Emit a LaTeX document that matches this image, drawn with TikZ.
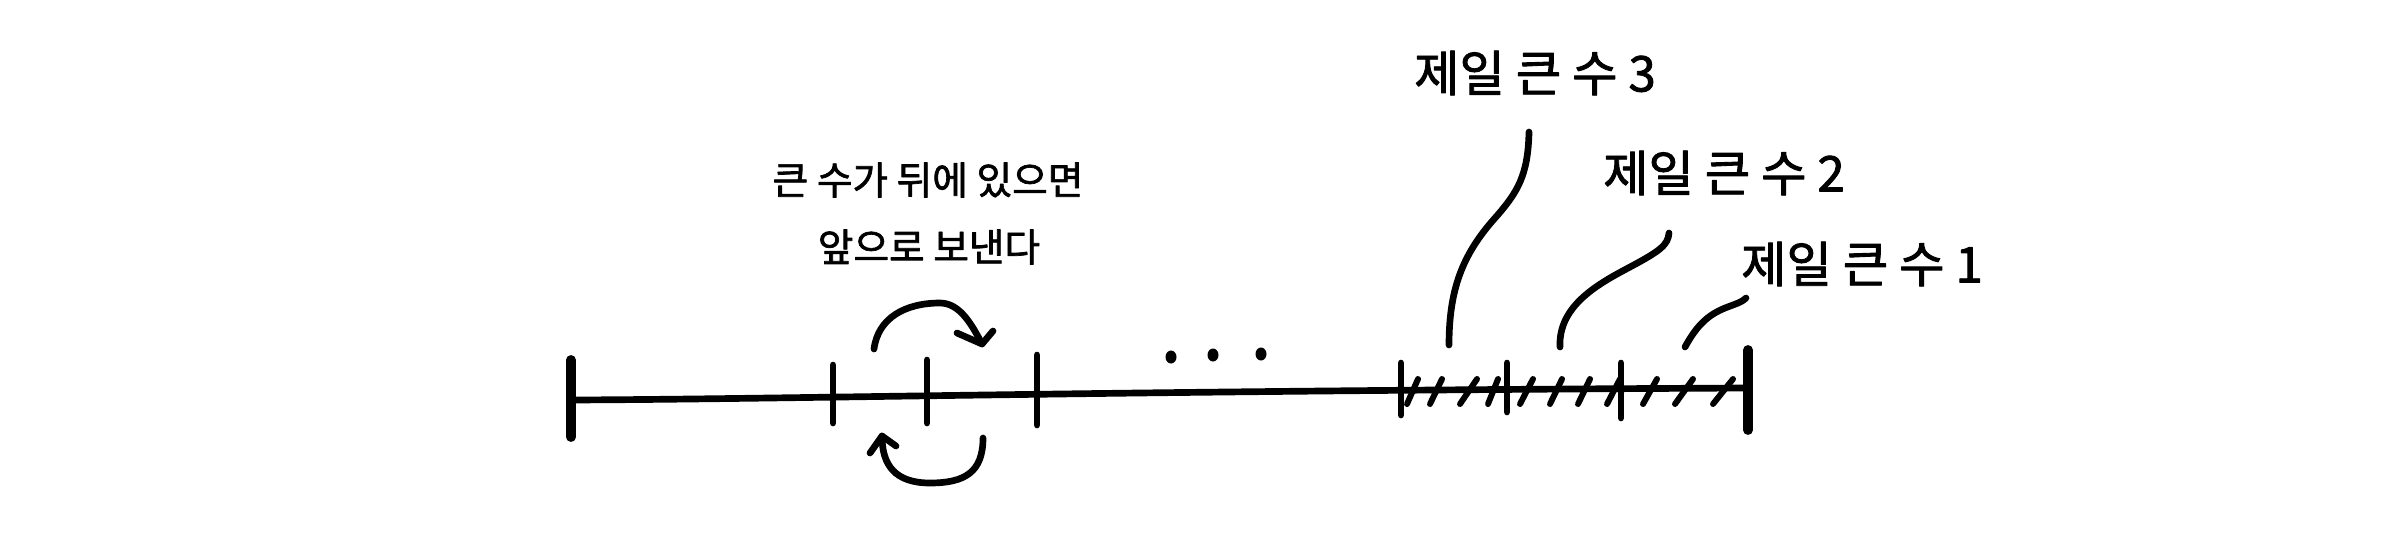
\documentclass[tikz,border=0pt]{standalone}
\usepackage{fontspec}
\newfontfamily\kr[RawFeature={embolden=1.8}]{Noto Sans CJK KR}
\begin{document}
\begin{tikzpicture}[x=0.01cm,y=-0.01cm, line cap=round, line join=round,
  stroke/.style={line width=1.9pt},
  bar/.style={line width=2.8pt},
  slash/.style={line width=1.7pt},
  lbl/.style={font=\kr\fontsize{14}{16}\selectfont, inner sep=0pt},
  note/.style={font=\kr\fontsize{11}{13}\selectfont, inner sep=0pt}]
\useasboundingbox (0,0) rectangle (2400,542);
% main line
\coordinate (L) at (571,400);
\coordinate (R) at (1748,388);
\draw[stroke] (L) .. controls (800,399) and (1100,391) .. (R);
% end bars
\coordinate (Lt) at (571,360); \coordinate (Lb) at (571,437);
\coordinate (Rt) at (1748,350); \coordinate (Rb) at (1748,430);
\draw[bar] (Lt) -- (Lb);
\draw[bar] (Rt) -- (Rb);
% ticks
\foreach \x/\t/\b in {833/365/423, 927/360/423, 1037/355/425, 1401/363/415, 1507/363/412, 1621/363/418}
  \draw[stroke] (\x,\t) -- (\x,\b);
% slashes
\foreach \a/\b in {1407/1418, 1430/1442, 1460/1477, 1488/1498, 1520/1533, 1550/1562, 1578/1590, 1607/1620, 1643/1657, 1675/1693, 1713/1733}
  \draw[slash] (\a,404) -- (\b,379);
% dots
\foreach \x/\y in {1171/357, 1213/355, 1261/354}
  \fill (\x,\y) ellipse [x radius=0.055cm, y radius=0.065cm];
% top arrow
\coordinate (ta) at (874,349);
\coordinate (tt) at (982,344);
\coordinate (th1) at (957,333);
\coordinate (th2) at (993,331);
\draw[stroke] (ta) .. controls (878,318) and (905,303) .. (940,303) .. controls (960,303) and (972,325) .. (tt);
\draw[stroke] (th1) -- (tt) -- (th2);
% bottom arrow
\coordinate (ba) at (983,438);
\coordinate (bt) at (882,436);
\coordinate (bh1) at (870,453);
\coordinate (bh2) at (896,446);
\draw[stroke] (ba) .. controls (983,472) and (965,483) .. (930,483) .. controls (895,483) and (882,465) .. (bt);
\draw[stroke] (bh1) -- (bt) -- (bh2);
% labels
\node[note] (n1) at (928,180) {큰 수가 뒤에 있으면};
\node[note] (n2) at (929,247) {앞으로 보낸다};
\node[lbl] (m3) at (1535,73) {제일 큰 수 3};
\node[lbl] (m2) at (1724,173) {제일 큰 수 2};
\node[lbl] (m1) at (1862,264) {제일 큰 수 1};
% leader lines
\coordinate (a3) at (1449,345); \coordinate (b3) at (1529,132);
\coordinate (a2) at (1560,347); \coordinate (b2) at (1669,233);
\coordinate (a1) at (1685,347); \coordinate (b1) at (1746,298);
\draw[stroke] (a3) .. controls (1449,290) and (1462,255) .. (1495,218) .. controls (1518,192) and (1528,175) .. (b3);
\draw[stroke] (a2) .. controls (1558,305) and (1600,283) .. (1630,267) .. controls (1660,251) and (1668,245) .. (b2);
\draw[stroke] (a1) .. controls (1697,325) and (1708,315) .. (1725,308) .. controls (1738,303) and (1742,302) .. (b1);
\end{tikzpicture}
\end{document}
